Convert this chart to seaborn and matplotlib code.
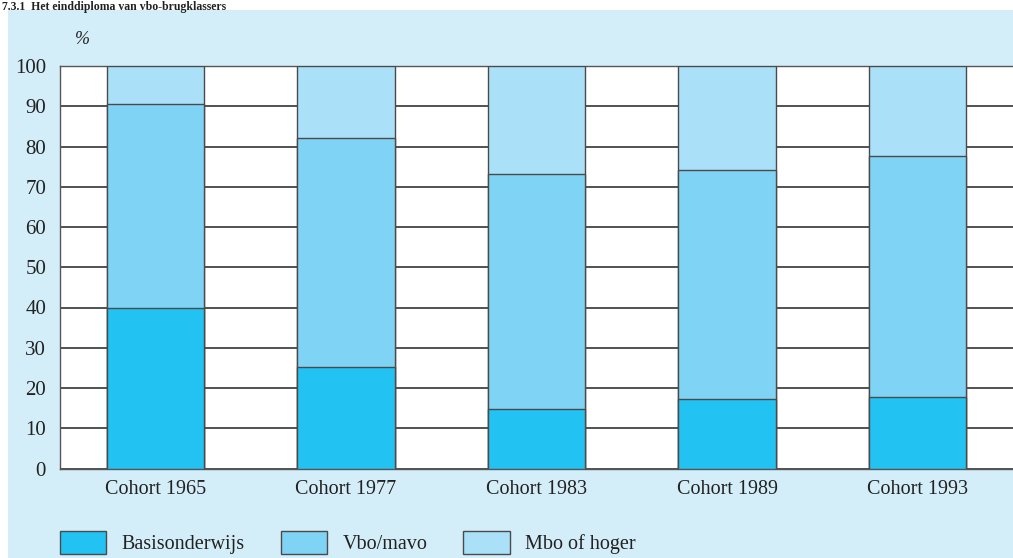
import numpy as np
import pandas as pd
import matplotlib
matplotlib.use("Agg")
import matplotlib.pyplot as plt
import matplotlib.patches as mpatches
import seaborn as sns

cohorts = ["Cohort 1965", "Cohort 1977", "Cohort 1983", "Cohort 1989", "Cohort 1993"]
basisonderwijs = [40.0, 25.1, 14.9, 17.2, 17.7]
vbo_mavo = [50.5, 57.0, 58.2, 56.9, 59.9]
mbo_of_hoger = [9.5, 17.9, 26.9, 25.9, 22.4]
series_names = ["Basisonderwijs", "Vbo/mavo", "Mbo of hoger"]
colors = ["#22c3f2", "#7fd3f5", "#aae1f9"]
yticks = [0, 10, 20, 30, 40, 50, 60, 70, 80, 90, 100]

panel_bg = "#d4eef9"

sns.set_style("white")
plt.rcParams["font.family"] = ["Liberation Serif", "DejaVu Serif"]

df = pd.DataFrame({"cohort": cohorts})
df["basis"] = basisonderwijs
df["vbo_top"] = np.array(basisonderwijs) + np.array(vbo_mavo)
df["mbo_top"] = df["vbo_top"] + np.array(mbo_of_hoger)

fig = plt.figure(figsize=(10.13, 5.58), dpi=100)
fig.patch.set_facecolor("white")
# light blue panel behind the chart
fig.patches.append(mpatches.Rectangle((8 / 1013, 0), 1 - 8 / 1013, 1 - 10 / 558,
                                      transform=fig.transFigure, facecolor=panel_bg,
                                      edgecolor="none", zorder=-10))
fig.text(2 / 1013, 1 - 1 / 558, "7.3.1  Het einddiploma van vbo-brugklassers",
         fontsize=8.5, fontweight="bold", va="top", ha="left", color="#222")

ax = fig.add_axes([60 / 1013, 1 - 468.5 / 558, 1 - 60 / 1013, 402.5 / 558])
ax.set_facecolor("white")

# stacked bars: draw cumulative totals, top layer first
for col, color in zip(["mbo_top", "vbo_top", "basis"], colors[::-1]):
    sns.barplot(data=df, x="cohort", y=col, color=color, width=0.51,
                edgecolor="#4a4a4a", linewidth=1.0, saturation=1, ax=ax, zorder=3)

ax.set_xlim(-0.5, 4.5)
ax.set_ylim(0, 100)
ax.set_yticks(yticks)
ax.yaxis.grid(True, color="#222", linewidth=1.1, zorder=0)
ax.set_axisbelow(True)
ax.set_xlabel("")
ax.set_ylabel("")
ax.tick_params(axis="y", length=0, pad=10, labelsize=15, labelcolor="#222")
ax.tick_params(axis="x", length=0, pad=8, labelsize=14.5, labelcolor="#222")
ax.spines["right"].set_visible(False)
for side in ["left", "bottom", "top"]:
    ax.spines[side].set_color("#555")
    ax.spines[side].set_linewidth(1.0)

fig.text(75 / 1013, 1 - 39 / 558, "%", fontsize=13, style="italic", color="#222",
         va="center", ha="left")

handles = [mpatches.Patch(facecolor=c, edgecolor="#4a4a4a", linewidth=1.0) for c in colors]
fig.legend(handles, series_names, loc="lower left", bbox_to_anchor=(42 / 1013, -14 / 558),
           ncol=3, frameon=False, fontsize=14.5, handlelength=2.3, handleheight=1.4,
           handletextpad=0.75, columnspacing=1.8, labelcolor="#222")

fig.savefig("out.png", dpi=100)
